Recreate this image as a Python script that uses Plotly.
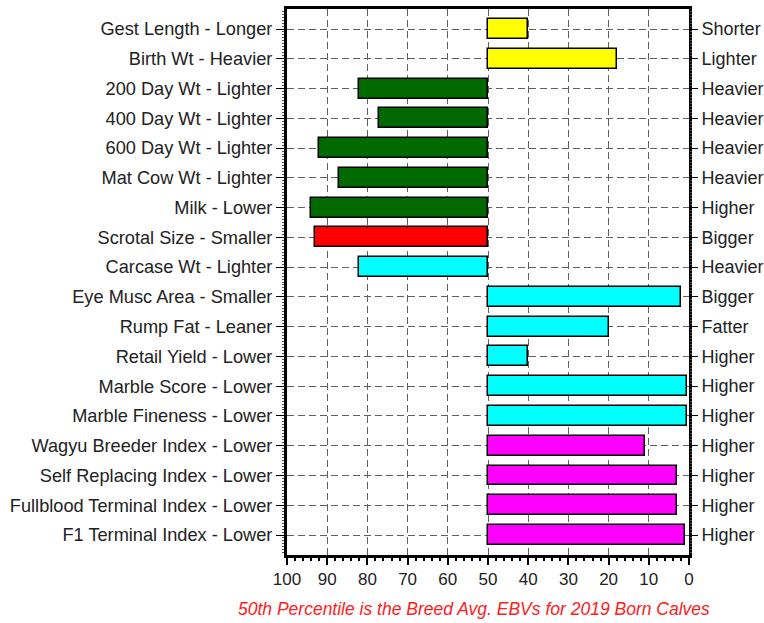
import plotly.graph_objects as go

left_labels = [
    "Gest Length - Longer", "Birth Wt - Heavier", "200 Day Wt - Lighter",
    "400 Day Wt - Lighter", "600 Day Wt - Lighter", "Mat Cow Wt - Lighter",
    "Milk - Lower", "Scrotal Size - Smaller", "Carcase Wt - Lighter",
    "Eye Musc Area - Smaller", "Rump Fat - Leaner", "Retail Yield - Lower",
    "Marble Score - Lower", "Marble Fineness - Lower", "Wagyu Breeder Index - Lower",
    "Self Replacing Index - Lower", "Fullblood Terminal Index - Lower",
    "F1 Terminal Index - Lower",
]
right_labels = [
    "Shorter", "Lighter", "Heavier", "Heavier", "Heavier", "Heavier",
    "Higher", "Bigger", "Heavier", "Bigger", "Fatter", "Higher",
    "Higher", "Higher", "Higher", "Higher", "Higher", "Higher",
]
percentiles = [40, 18, 82, 77, 92, 87, 94, 93, 82, 2, 20, 40, 0.5, 0.5, 11, 3, 3, 1]
bar_colors = [
    "#FFFF00", "#FFFF00", "#006A00", "#006A00", "#006A00", "#006A00",
    "#006A00", "#FF0000", "#00FFFF", "#00FFFF", "#00FFFF", "#00FFFF",
    "#00FFFF", "#00FFFF", "#FF00FF", "#FF00FF", "#FF00FF", "#FF00FF",
]
x_ticks = [100, 90, 80, 70, 60, 50, 40, 30, 20, 10, 0]
breed_avg = 50
footer = "50th Percentile is the Breed Avg. EBVs for 2019 Born Calves"

pos = list(range(len(left_labels)))

fig = go.Figure()
fig.add_trace(go.Bar(
    y=pos,
    x=[p - breed_avg for p in percentiles],
    base=breed_avg,
    orientation="h",
    width=0.67,
    marker=dict(color=bar_colors, line=dict(color="black", width=1.5)),
    showlegend=False,
    hoverinfo="skip",
))
fig.add_trace(go.Scatter(
    x=[breed_avg] * len(pos), y=pos, yaxis="y2", mode="markers",
    marker=dict(opacity=0), showlegend=False, hoverinfo="skip",
))

yrange = [len(pos) - 1 + 0.672, -0.672]
font_family = "Liberation Sans, Arial, sans-serif"
grid = dict(showgrid=True, gridcolor="#606060", gridwidth=1, griddash="7px,4px")
y_minor = dict(tickmode="linear", tick0=0, dtick=0.1, ticks="outside", ticklen=2,
               tickcolor="#555555", showgrid=False)

fig.update_layout(
    width=764, height=623,
    margin=dict(l=287, r=75, t=9, b=68),
    paper_bgcolor="white", plot_bgcolor="white",
    font=dict(family=font_family, color="#222222"),
    bargap=0,
    xaxis=dict(
        range=[100, 0], tickvals=x_ticks, ticktext=[str(v) for v in x_ticks],
        ticks="outside", ticklen=7, tickwidth=2, tickcolor="black",
        minor=dict(dtick=2, ticks="outside", ticklen=3, tickcolor="black", showgrid=False),
        showline=True, linecolor="black", linewidth=3, mirror=True, automargin=False,
        tickfont=dict(size=17, color="#222222"), zeroline=False, **grid,
    ),
    yaxis=dict(
        range=yrange, tickvals=pos, ticktext=left_labels,
        ticks="outside", ticklen=8, tickcolor="black", automargin=False,
        minor=y_minor,
        showline=True, linecolor="black", linewidth=3, mirror=True,
        tickfont=dict(size=18.2, color="#222222"), zeroline=False, **grid,
    ),
    yaxis2=dict(
        range=yrange, overlaying="y", side="right", tickvals=pos, ticktext=right_labels,
        ticks="outside", ticklen=8, tickcolor="black", automargin=False,
        minor=y_minor,
        showgrid=False, zeroline=False, showline=False,
        tickfont=dict(size=18, color="#222222"),
    ),
    annotations=[dict(
        text=footer, xref="paper", yref="paper", x=(474 - 287) / 402, y=-(609 - 555) / 546,
        xanchor="center", yanchor="middle", showarrow=False,
        font=dict(size=17.5, color="#FF2020", family=font_family, style="italic"),
    )],
)

fig.write_html("out.html", config={"displayModeBar": False})

# remove the browser's default page margin so the figure sits at the window's corner
with open("out.html", encoding="utf-8") as fh:
    html = fh.read()
html = html.replace("<body>", '<body style="margin:0;padding:0;">', 1)
with open("out.html", "w", encoding="utf-8") as fh:
    fh.write(html)
